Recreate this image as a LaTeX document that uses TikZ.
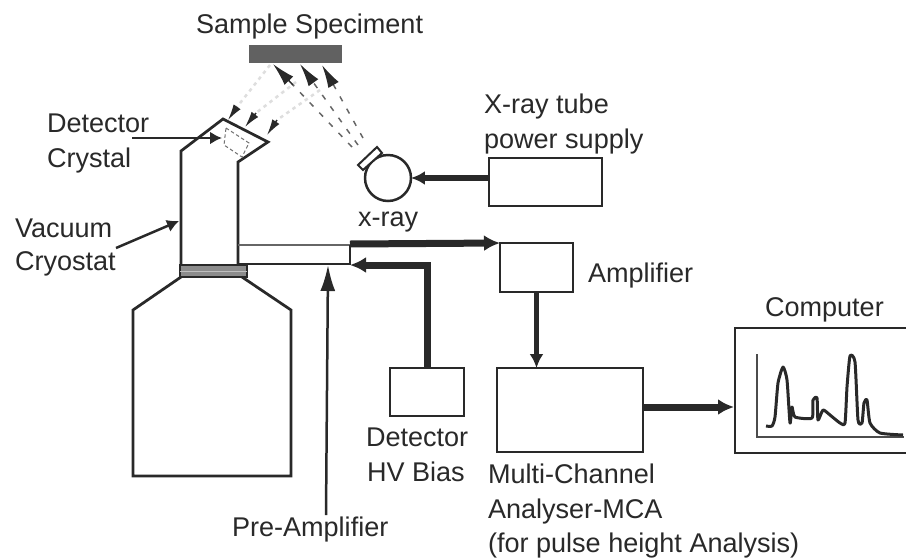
\documentclass[tikz,border=0pt]{standalone}
\usepackage{fontspec}
\setmainfont{Liberation Sans}
\usetikzlibrary{arrows.meta}
\definecolor{ink}{gray}{0.16}
\tikzset{
  x=0.02cm,y=-0.02cm,
  every node/.style={inner sep=0pt,outer sep=0pt},
  lab/.style={font=\fontsize{15.4}{18}\selectfont,text=ink,anchor=base west},
  outline/.style={draw=ink,line width=0.055cm},
  thin outline/.style={draw=ink,line width=0.04cm},
  boxa/.style={draw=ink,line width=0.05cm,rectangle},
  heavy/.style={draw=ink,line width=0.14cm,-{Latex[length=0.32cm,width=0.32cm]}},
  medium/.style={draw=ink,line width=0.105cm,-{Latex[length=0.28cm,width=0.28cm]}},
  pointer/.style={draw=ink,line width=0.05cm,-{Latex[length=0.24cm,width=0.26cm]}},
  tallpointer/.style={draw=ink,line width=0.05cm,-{Latex[length=0.52cm,width=0.3cm]}},
  beamhead/.style={draw=ink,line width=0.03cm,-{Latex[length=0.46cm,width=0.24cm]}},
  smallhead/.style={draw=ink,line width=0.03cm,-{Latex[length=0.32cm,width=0.17cm]}},
  beamhot/.style={draw=black!60,line width=0.03cm,dash pattern=on 0.11cm off 0.17cm},
  beamcold/.style={draw=black!13,line width=0.05cm,dash pattern=on 0.07cm off 0.08cm},
}
\begin{document}
\begin{tikzpicture}
\useasboundingbox (0,0) rectangle (906,558);
% labels
\node[lab] (sampletxt) at (196,33) {Sample Speciment};
\node[lab] (dettxt) at (47,132) {Detector};
\node[lab] (crytxt) at (47,167) {Crystal};
\node[lab] (vactxt) at (15,237) {Vacuum};
\node[lab] (cryotxt) at (15,270) {Cryostat};
\node[lab] (xtxt) at (358,226) {x-ray};
\node[lab] (tubetxt) at (484,113) {X-ray tube};
\node[lab] (powertxt) at (484,148) {power supply};
\node[lab] (amptxt) at (588,282) {Amplifier};
\node[lab] (comptxt) at (765,316) {Computer};
\node[lab] (hv1) at (366,446) {Detector};
\node[lab] (hv2) at (367,481) {HV Bias};
\node[lab] (mca1) at (488,483) {Multi-Channel};
\node[lab] (mca2) at (488,518) {Analyser-MCA};
\node[lab] (mca3) at (488,552) {(for pulse height Analysis)};
\node[lab] (pretxt) at (232,536) {Pre-Amplifier};
% specimen
\node[fill=black!62,minimum width=1.86cm,minimum height=0.36cm] (spec) at (295.5,54) {};
% boxes
\node[boxa,minimum width=2.26cm,minimum height=0.96cm] (supply) at (545.5,182) {};
\node[boxa,minimum width=1.46cm,minimum height=0.98cm] (amp) at (536.5,267.5) {};
\node[boxa,minimum width=1.48cm,minimum height=0.96cm] (bias) at (427,392) {};
\node[boxa,minimum width=2.92cm,minimum height=1.68cm] (mca) at (570,410) {};
% computer frame (open at the page edge)
\coordinate (c1) at (910,328);
\coordinate (c2) at (735,328);
\coordinate (c3) at (735,453);
\coordinate (c4) at (910,453);
\draw[boxa] (c1) -- (c2) -- (c3) -- (c4);
% x-ray source
\node[draw=ink,line width=0.05cm,circle,minimum size=0.92cm] (tube) at (388,178) {};
\draw[outline,line width=0.04cm,fill=white] (358,165) -- (377,147) -- (382,153) -- (363,170) -- cycle;
% beams
\foreach \a/\b/\c/\d in {293/85/352/147,313/82/358/145,333/84/363/138}{
  \draw[beamhot] (\c,\d) -- (\a,\b);
}
\foreach \a/\b/\c/\d in {270/65/237/107,296/82/256/113,320/90/277/120}{
  \draw[beamcold] (\a,\b) -- (\c,\d);
}
\draw[beamhead] (293,85) -- (273,64);
\draw[beamhead] (313,82) -- (300,64);
\draw[beamhead] (333,84) -- (322,65);
\draw[smallhead] (237,107) -- (228,120);
\draw[smallhead] (256,113) -- (245,127);
\draw[smallhead] (277,120) -- (267,135);
% cryostat head
\draw[outline,line join=miter] (181,277) -- (181,151) -- (223,119) -- (268,142) -- (238,162) -- (238,265);
\draw[draw=black!55,line width=0.02cm,dash pattern=on 0.07cm off 0.05cm] (226,128) -- (249,143) -- (242,157) -- (224,145) -- cycle;
% flange and bottle
\node[fill=black!45,draw=ink,line width=0.03cm,minimum width=1.34cm,minimum height=0.24cm] (flange) at (213.5,271) {};
\draw[draw=white!75!black,line width=0.02cm] (flange.west) -- (flange.east);
\draw[outline] (181,277) -- (133,310) -- (133,476) -- (291,476) -- (291,310) -- (242,277);
% pre-amplifier
\coordinate (p1) at (238,245);
\coordinate (p2) at (350,245);
\coordinate (p3) at (350,264);
\coordinate (p4) at (238,264);
\draw[thin outline,draw=black!60] (p1) -- (p2);
\draw[thin outline] (p2) -- (p3) -- (p4);
% spectrum
\coordinate (ax1) at (757,354);
\coordinate (ax2) at (757,437);
\coordinate (ax3) at (904,437);
\draw[draw=black!70,line width=0.055cm] (ax1) -- (ax2) -- (ax3);
\draw[draw=ink,line width=0.06cm,line join=round] plot[smooth,tension=0.35] coordinates {
(766,426)(772,426)(775,417)(778,383)(783,367)(787,380)(790,423)(792,407)(795,417)(812,418)
(813,400)(817,398)(818,420)(823,410)(830,415)(840,423)(845,423)(847,387)(850,356)(855,362)
(858,420)(862,423)(864,403)(867,400)(870,423)(880,433)(903,435)};
% connectors
\coordinate (outstart) at (350,244);
\draw[heavy] (outstart) -- (amp.north west);
\coordinate (bend) at (427,265);
\coordinate (pre) at (350,265);
\draw[heavy] (bias.north) -- (bend) -- (pre);
\draw[medium] (amp.south) -- (amp.south |- mca.north);
\coordinate (mcaout) at (643,407);
\coordinate (compin) at (734,407);
\draw[heavy] (mcaout) -- (compin);
\coordinate (supin) at (489,178);
\draw[medium] (supin) -- (tube.east);
\coordinate (pre1) at (326,515);
\coordinate (pre2) at (328,265);
\draw[tallpointer] (pre1) -- (pre2);
\coordinate (dstart) at (132,138);
\coordinate (dend) at (222,138);
\draw[pointer] (dstart) -- (dend);
\coordinate (vstart) at (116,248);
\coordinate (vend) at (179,221);
\draw[pointer] (vstart) -- (vend);
\end{tikzpicture}
\end{document}
